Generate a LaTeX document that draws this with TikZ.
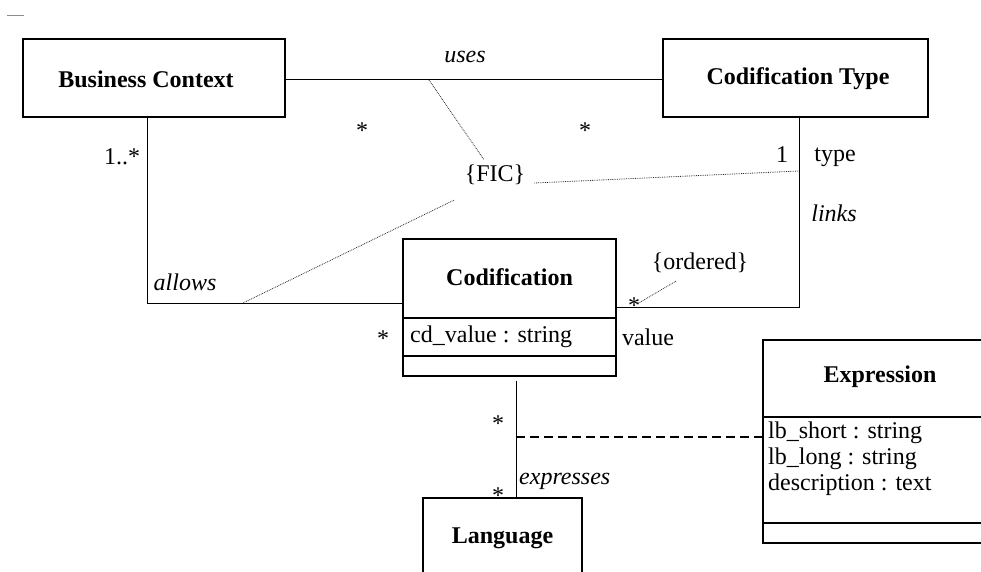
\documentclass[tikz,border=0pt]{standalone}
\usepackage{fontspec}
\setmainfont{Liberation Serif}
\usetikzlibrary{calc}
\begin{document}
\begin{tikzpicture}[x=1pt,y=-1pt,
  every node/.style={font=\fontsize{24}{28}\selectfont, inner sep=0pt},
  classbox/.style={draw, line width=1.1pt, rectangle, inner sep=0pt},
  cname/.style={font=\fontsize{24}{28}\selectfont\bfseries},
  role/.style={font=\fontsize{24}{28}\selectfont\itshape},
  link/.style={line width=1pt},
  sepline/.style={line width=1.1pt},
  constraint/.style={densely dotted, line width=0.8pt, black!85},
  ]
\useasboundingbox (0,0) rectangle (981,572);
\clip (0,0) rectangle (981,572);

% small mark in the corner
\draw[black!45, line width=0.8pt] (7,15) -- (24,15);

% classes
\node[classbox, minimum width=262pt, minimum height=78pt] (bc) at (154,78) {};
\node[cname] (bcname) at (146,79) {Business Context};

\node[classbox, minimum width=265pt, minimum height=78pt] (ct) at (795.5,78) {};
\node[cname] (ctname) at (798,79) {Codification Type};

\node[classbox, minimum width=213pt, minimum height=137pt] (cod) at (509.5,307.5) {};
\node[cname] (codname) at (509.5,277) {Codification};
\draw[line width=1.6pt] ($(cod.west)+(0,10.5)$) -- ($(cod.east)+(0,10.5)$);
\draw[sepline] ($(cod.west)+(0,48.5)$) -- ($(cod.east)+(0,48.5)$);
\node[anchor=west] (codattr) at (410,337) {cd\_value : string};

\node[classbox, minimum width=159pt, minimum height=130pt] (lang) at (502.5,563) {};
\node[cname] (langname) at (502.5,538) {Language};

\node[classbox, minimum width=240pt, minimum height=203pt] (expr) at (883,441.5) {};
\node[cname] (exprname) at (880,377) {Expression};
\draw[sepline] ($(expr.west)+(0,-24.5)$) -- ($(expr.east)+(0,-24.5)$);
\draw[sepline] ($(expr.west)+(0,81.5)$) -- ($(expr.east)+(0,81.5)$);
\node[anchor=west] (ea1) at (768,433) {lb\_short : string};
\node[anchor=west] (ea2) at (768,459) {lb\_long : string};
\node[anchor=west] (ea3) at (768,485) {description : text};

% association "uses"
\draw[link] ([yshift=-2pt]bc.east) -- ([yshift=-2pt]ct.west);
\node[role] (usesl) at (465,57) {uses};
\node (m1) at (362,131) {*};
\node (m2) at (585,131) {*};

% association "allows"
\draw[link] ([xshift=-7pt]bc.south) |- ([yshift=4.5pt]cod.west);
\node (m3) at (122,157) {1..*};
\node[role] (allowsl) at (185,282) {allows};
\node (m4) at (383,339) {*};

% association "links"
\draw[link] ([xshift=3.5pt]ct.south) |- ([yshift=0.5pt]cod.east);
\node (m5) at (782,155) {1};
\node (typel) at (835,157) {type};
\node[role] (linksl) at (834,213) {links};
\node (valuel) at (648,337) {value};
\node (m6) at (634,306) {*};

% constraints
\coordinate (usesjoint) at (429,80);
\coordinate (typejoint) at (799,171);
\coordinate (allowsjoint) at (243,303);
\coordinate (orderedjoint) at (637,304);
\node (fic) at (495,175) {\{FIC\}};
\draw[constraint] (usesjoint) -- ([shift={(-11pt,5pt)}]fic.north);
\draw[constraint] ([shift={(9pt,-8pt)}]fic.east) -- (typejoint);
\draw[constraint] ([shift={(-41pt,-15pt)}]fic.south) -- (allowsjoint);
\node (ord) at (700,263) {\{ordered\}};
\draw[constraint] ([shift={(-24pt,-8pt)}]ord.south) -- (orderedjoint);

% association "expresses" with its association class
\draw[link] ([xshift=6.5pt,yshift=-4pt]cod.south) -- ([xshift=13.5pt]lang.north);
\coordinate (exprjoint) at (516,437);
\draw[line width=1.4pt, dash pattern=on 9pt off 5pt] (exprjoint) -- ([yshift=4.5pt]expr.west);
\node (m7) at (498,424) {*};
\node (m8) at (498,496) {*};
\node[role, anchor=west] (expl) at (519,481) {expresses};
\end{tikzpicture}
\end{document}
